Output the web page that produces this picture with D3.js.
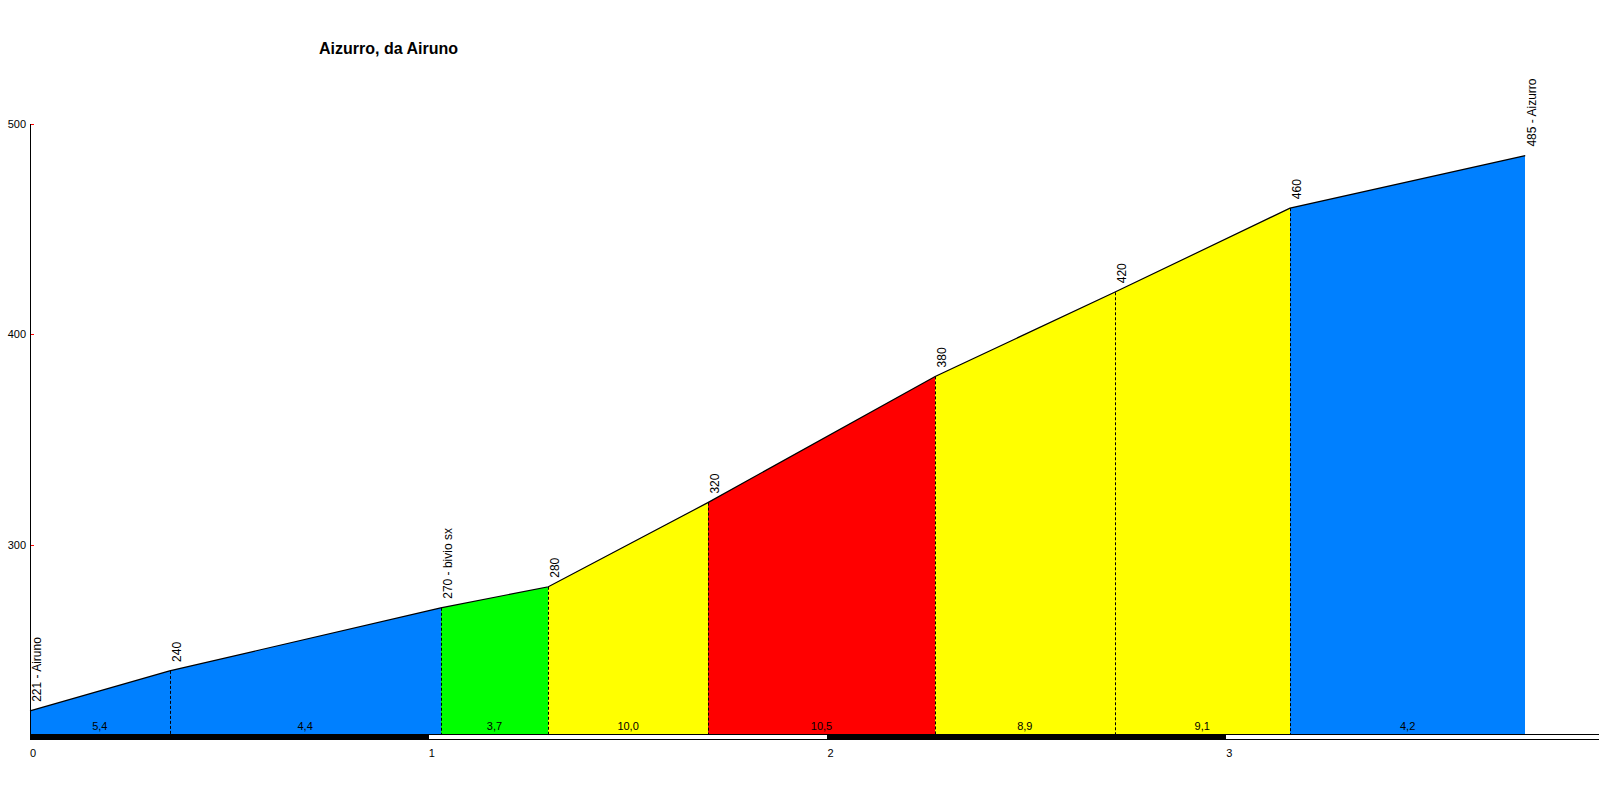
<!DOCTYPE html>
<html>
<head>
<meta charset="utf-8">
<script src="https://cdn.jsdelivr.net/npm/d3@7"></script>
<style>
  body { margin: 0; background: #fff; }
  svg { display: block; font-family: "Liberation Sans", Arial, sans-serif; }
</style>
</head>
<body>
<svg></svg>
<script>
// profile points (km, metres)
const distances = [0, 0.35, 1.03, 1.30, 1.70, 2.27, 2.72, 3.16, 3.75];
const altitudes = [221, 240, 270, 280, 320, 380, 420, 460, 485];
const pointNames = ['Airuno', '', 'bivio sx', '', '', '', '', '', 'Aizurro'];
// per segment
const gradients = ['5,4', '4,4', '3,7', '10,0', '10,5', '8,9', '9,1', '4,2'];
const segColors = ['#0080ff', '#0080ff', '#00ff00', '#ffff00', '#ff0000', '#ffff00', '#ffff00', '#0080ff'];
const yTicks = [300, 400, 500];
const xTicks = [0, 1, 2, 3];

const svg = d3.select('svg')
	.attr('width', 1599)
	.attr('height', 803);

const xScale = d3.scaleLinear()
	.domain([0, 3.935])
	.range([30, 1599]);

const yScale = d3.scaleLinear()
	.domain([210, 500])
	.range([734, 124]);

const points = distances.map((d, i) => ({ km: d, alt: altitudes[i], name: pointNames[i] }));
const segments = d3.pairs(points).map((p, i) => ({ a: p[0], b: p[1], grad: gradients[i], color: segColors[i] }));

// title
svg.append('text')
	.attr('x', 319)
	.attr('y', 54)
	.attr('font-size', 16)
	.attr('font-weight', 'bold')
	.text('Aizurro, da Airuno');

// coloured areas
const area = d3.area()
	.x(d => xScale(d.km))
	.y0(yScale(210))
	.y1(d => yScale(d.alt));

svg.append('g').selectAll('path')
	.data(segments)
	.enter().append('path')
	.attr('fill', d => d.color)
	.attr('shape-rendering', 'crispEdges')
	.attr('d', d => area([d.a, d.b]));

// dashed verticals
svg.append('g').selectAll('line')
	.data(points.slice(1, -1))
	.enter().append('line')
	.attr('x1', d => Math.round(xScale(d.km)) + 0.5)
	.attr('x2', d => Math.round(xScale(d.km)) + 0.5)
	.attr('y1', d => yScale(d.alt))
	.attr('y2', yScale(210))
	.attr('stroke', '#000')
	.attr('stroke-dasharray', '3,2');

// profile line
const line = d3.line()
	.x(d => xScale(d.km))
	.y(d => yScale(d.alt));

svg.append('path')
	.attr('d', line(points))
	.attr('fill', 'none')
	.attr('stroke', '#000')
	.attr('stroke-width', 1.2);

// gradient labels
svg.append('g').selectAll('text')
	.data(segments)
	.enter().append('text')
	.attr('x', d => (xScale(d.a.km) + xScale(d.b.km)) / 2)
	.attr('y', 730)
	.attr('text-anchor', 'middle')
	.attr('font-size', 11)
	.text(d => d.grad);

// point labels
svg.append('g').selectAll('text')
	.data(points)
	.enter().append('text')
	.attr('transform', d => `translate(${xScale(d.km) + 11}, ${yScale(d.alt) - 9}) rotate(-90)`)
	.attr('font-size', 12)
	.text(d => d.name ? d.alt + ' - ' + d.name : d.alt);

// y axis
svg.append('line')
	.attr('x1', 30.5).attr('x2', 30.5)
	.attr('y1', yScale(500)).attr('y2', yScale(210))
	.attr('stroke', '#000');

const yG = svg.append('g');
yG.selectAll('line')
	.data(yTicks)
	.enter().append('line')
	.attr('x1', 31).attr('x2', 34)
	.attr('y1', d => Math.round(yScale(d)) + 0.5)
	.attr('y2', d => Math.round(yScale(d)) + 0.5)
	.attr('stroke', '#ff0000');
yG.selectAll('text')
	.data(yTicks)
	.enter().append('text')
	.attr('x', 26)
	.attr('y', d => yScale(d) + 4)
	.attr('text-anchor', 'end')
	.attr('font-size', 11)
	.text(d => d);

// x axis bar, alternating black / white kilometres
const barY = 734;
const kmBands = d3.range(0, Math.ceil(xScale.domain()[1]));
svg.append('g').selectAll('rect')
	.data(kmBands)
	.enter().append('rect')
	.attr('x', d => xScale(d))
	.attr('y', barY)
	.attr('width', d => xScale(Math.min(d + 1, xScale.domain()[1])) - xScale(d))
	.attr('height', 6)
	.attr('fill', d => d % 2 === 0 ? '#000' : '#fff')
	.attr('shape-rendering', 'crispEdges');
svg.append('line')
	.attr('x1', 30).attr('x2', 1599)
	.attr('y1', barY + 0.5).attr('y2', barY + 0.5)
	.attr('stroke', '#000');
svg.append('line')
	.attr('x1', 30).attr('x2', 1599)
	.attr('y1', barY + 5.5).attr('y2', barY + 5.5)
	.attr('stroke', '#000');

svg.append('g').selectAll('text')
	.data(xTicks)
	.enter().append('text')
	.attr('x', d => xScale(d))
	.attr('y', 757)
	.attr('font-size', 11)
	.text(d => d);
</script>
</body>
</html>
